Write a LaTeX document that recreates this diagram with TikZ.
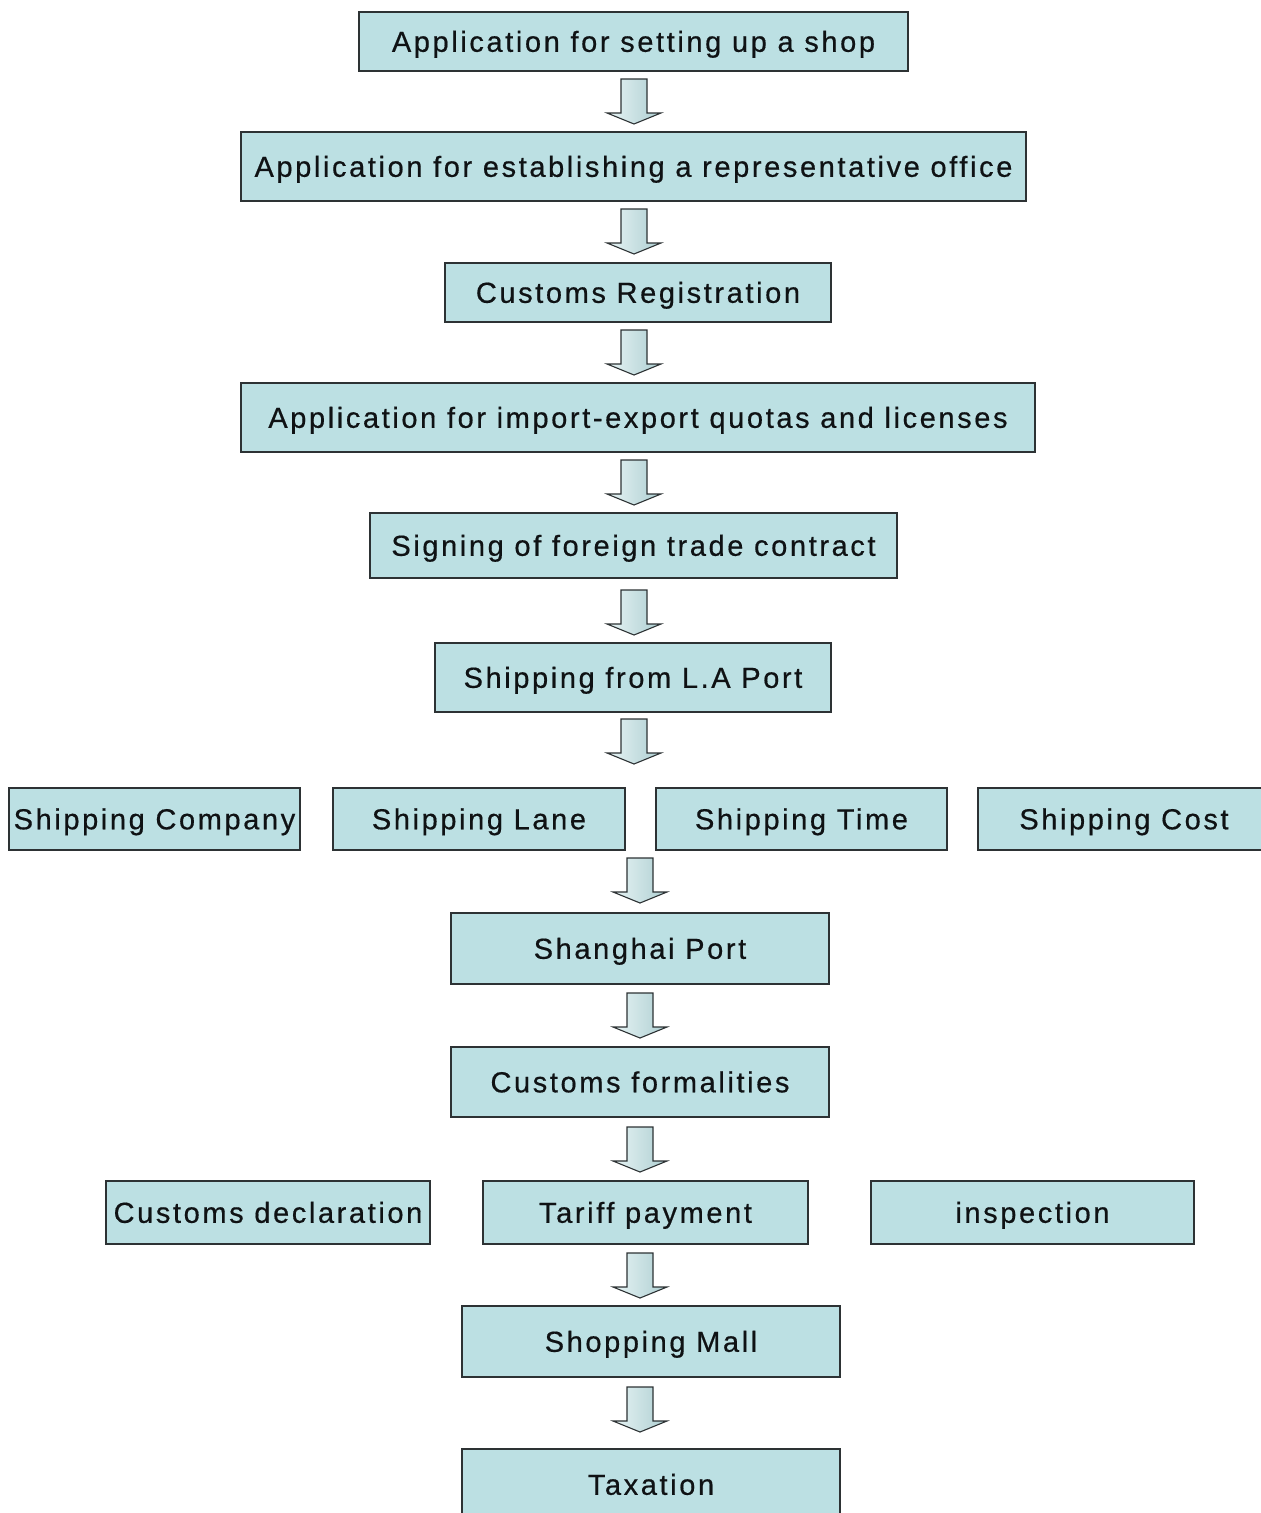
\documentclass[tikz,border=0pt]{standalone}
\usepackage{fontspec}
\setmainfont{Liberation Sans}[LetterSpace=9, FakeBold=0.5]
\definecolor{boxblue}{RGB}{188,224,227}
\definecolor{edgegray}{RGB}{45,50,52}
\definecolor{txt}{RGB}{15,18,20}
\newcommand\blockarrow[2]{%
  \draw[arrowstyle] (#1-13,#2) -- (#1+13,#2) -- (#1+13,#2+34) -- (#1+27,#2+34)
    -- (#1,#2+45) -- (#1-27,#2+34) -- (#1-13,#2+34) -- cycle;}
\begin{document}
\begin{tikzpicture}[x=1pt,y=-1pt,
  box/.style={draw=edgegray, line width=1.4pt, fill=boxblue, inner sep=0pt,
    text=txt, font=\fontsize{29}{32}\selectfont,
    text height=20.6pt, text depth=0pt, anchor=center},
  arrowstyle/.style={draw=edgegray, line width=1.1pt, line join=miter,
    left color=boxblue!35!white, right color=boxblue!92!black}]
\useasboundingbox (0,0) rectangle (1261,1513);
\clip (0,0) rectangle (1261,1513);
\node[box, minimum width=549pt, minimum height=59pt] (b1) at (633.5,41.5) {Application for setting up a shop};
\node[box, minimum width=785pt, minimum height=69pt] (b2) at (633.5,166.5) {Application for establishing a representative office};
\node[box, minimum width=386pt, minimum height=59pt] (b3) at (638,292.5) {Customs Registration};
\node[box, minimum width=794pt, minimum height=69pt] (b4) at (638,417.5) {Application for import-export quotas and licenses};
\node[box, minimum width=527pt, minimum height=65pt] (b5) at (633.5,545.5) {Signing of foreign trade contract};
\node[box, minimum width=396pt, minimum height=69pt] (b6) at (633,677.5) {Shipping from L.A Port};
\node[box, minimum width=291pt, minimum height=62pt] (r1) at (154.5,819) {Shipping Company};
\node[box, minimum width=292pt, minimum height=62pt] (r2) at (479,819) {Shipping Lane};
\node[box, minimum width=291pt, minimum height=62pt] (r3) at (801.5,819) {Shipping Time};
\node[box, minimum width=292pt, minimum height=62pt] (r4) at (1124,819) {Shipping Cost};
\node[box, minimum width=378pt, minimum height=71pt] (b8) at (640,948.5) {Shanghai Port};
\node[box, minimum width=378pt, minimum height=70pt] (b9) at (640,1082) {Customs formalities};
\node[box, minimum width=324pt, minimum height=63pt] (c1) at (268,1212.5) {Customs declaration};
\node[box, minimum width=325pt, minimum height=63pt] (c2) at (645.5,1212.5) {Tariff payment};
\node[box, minimum width=323pt, minimum height=63pt] (c3) at (1032.5,1212.5) {inspection};
\node[box, minimum width=378pt, minimum height=71pt] (b11) at (651,1341.5) {Shopping Mall};
\node[box, minimum width=378pt, minimum height=71pt] (b12) at (651,1484.5) {Taxation};
\blockarrow{634}{79}
\blockarrow{634}{209}
\blockarrow{634}{330}
\blockarrow{634}{460}
\blockarrow{634}{590}
\blockarrow{634}{719}
\blockarrow{640}{858}
\blockarrow{640}{993}
\blockarrow{640}{1127}
\blockarrow{640}{1253}
\blockarrow{640}{1387}
\end{tikzpicture}
\end{document}
